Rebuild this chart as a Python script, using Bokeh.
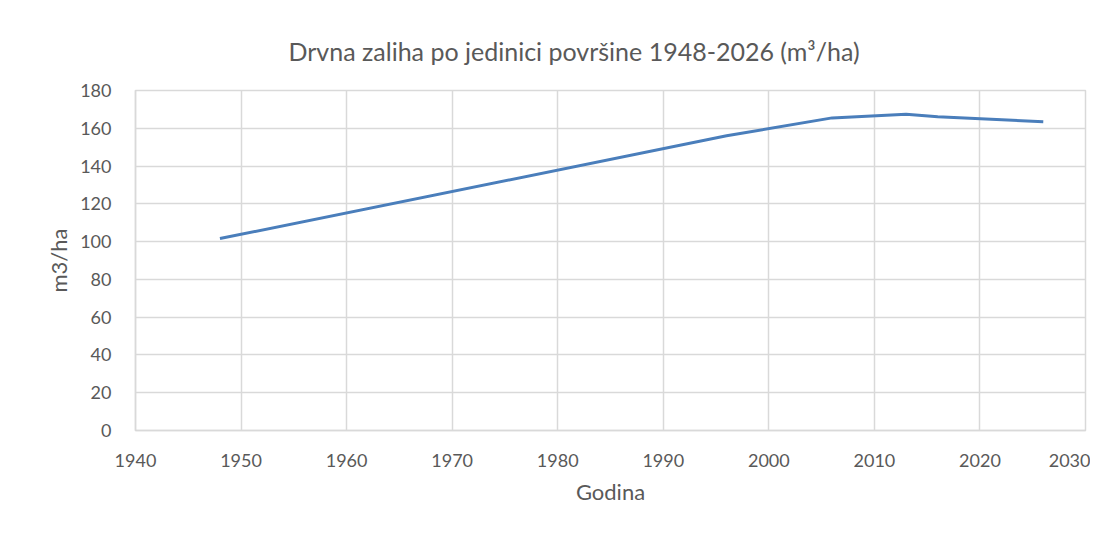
from bokeh.plotting import figure
from bokeh.models import Range1d, FixedTicker
from bokeh.embed import file_html
from bokeh.resources import INLINE

# Data
years = [1948, 1996, 2006, 2013, 2016, 2026]
values = [101.6, 156.0, 165.5, 167.4, 166.1, 163.5]
x_ticks = [1940, 1950, 1960, 1970, 1980, 1990, 2000, 2010, 2020, 2030]
y_ticks = [0, 20, 40, 60, 80, 100, 120, 140, 160, 180]

title_text = "Drvna zaliha po jedinici površine 1948-2026 (m³/ha)"
FONT = "Lato"
GRAY = "#595959"
GRID = "#d9d9d9"

p = figure(width=1110, height=527, frame_width=950, frame_height=340,
           min_border_left=135, min_border_top=90,
           output_backend="svg", toolbar_location=None,
           x_range=Range1d(1940, 2030), y_range=Range1d(0, 180))

p.title.text = title_text
p.title.align = "left"
p.title.offset = 153
p.title.text_font = FONT
p.title.text_font_size = "25px"
p.title.text_font_style = "normal"
p.title.text_color = GRAY
p.title.standoff = 49

p.line(years, values, line_color="#4a7ebb", line_width=3)

for ax in (p.xaxis, p.yaxis):
    ax.major_tick_line_color = None
    ax.minor_tick_line_color = None
    ax.axis_line_color = GRID
    ax.axis_line_width = 1.5
    ax.major_label_text_font = FONT
    ax.major_label_text_font_size = "18px"
    ax.major_label_text_color = GRAY
    ax.axis_label_text_font = FONT
    ax.axis_label_text_font_size = "22px"
    ax.axis_label_text_font_style = "normal"
    ax.axis_label_text_color = GRAY

p.xaxis.ticker = FixedTicker(ticks=x_ticks)
p.yaxis.ticker = FixedTicker(ticks=y_ticks)
p.xaxis.axis_label = "Godina"
p.yaxis.axis_label = "m3/ha"
p.xaxis.major_label_standoff = 17
p.yaxis.major_label_standoff = 18
p.xaxis.axis_label_standoff = 8
p.yaxis.axis_label_standoff = 5

p.xgrid.ticker = FixedTicker(ticks=x_ticks)
p.ygrid.ticker = FixedTicker(ticks=y_ticks)
p.grid.grid_line_color = GRID
p.grid.grid_line_width = 1.5
p.outline_line_color = GRID
p.outline_line_width = 1.5

open("out.html", "w").write(file_html(p, INLINE))
